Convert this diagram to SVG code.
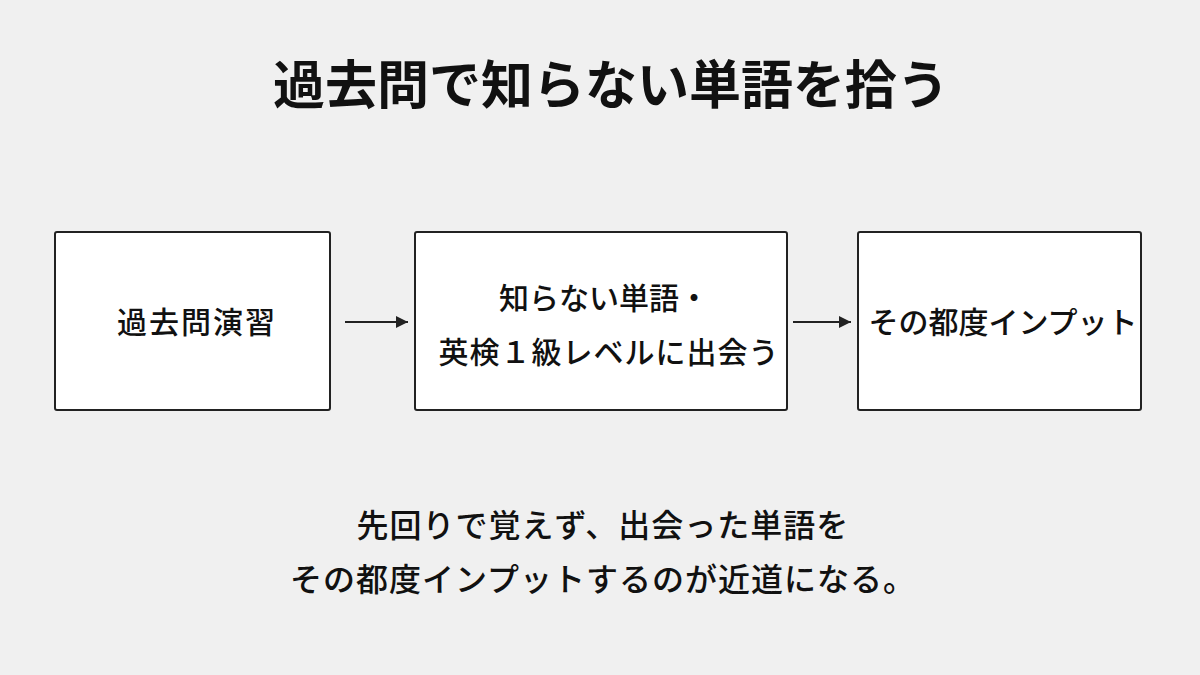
<svg xmlns="http://www.w3.org/2000/svg" width="1200" height="675" viewBox="0 0 1200 675">
<style>
text{font-family:"Noto Sans CJK JP","Noto Sans",sans-serif;fill:#111;text-anchor:middle}
.box{fill:#fff;stroke:#222;stroke-width:2}
.t{font-size:30px;font-weight:500}
.c{stroke:#222;stroke-width:2;fill:none}
</style>
<defs><marker id="a" viewBox="0 0 10 10" refX="10" refY="5" markerWidth="12" markerHeight="12" markerUnits="userSpaceOnUse" orient="auto"><path d="M0,0L10,5L0,10z" fill="#222"/></marker></defs>
<rect width="1200" height="675" fill="#f0f0f0"/>
<text x="611" y="104" font-size="52" font-weight="700">過去問で知らない単語を拾う</text>
<g id="n1"><rect class="box" x="55" y="232" width="275" height="178" rx="2"/><text class="t" x="197" y="333" font-size="33" letter-spacing="2">過去問演習</text></g>
<g id="n2"><rect class="box" x="415" y="232" width="372" height="178" rx="2"/><text class="t" x="604" y="309">知らない単語・</text><text class="t" x="609" y="363" letter-spacing="1">英検１級レベルに出会う</text></g>
<g id="n3"><rect class="box" x="858" y="232" width="283" height="178" rx="2"/><text class="t" x="1003" y="333">その都度インプット</text></g>
<g id="connectors"><path class="c" d="M345 322H408" marker-end="url(#a)"/><path class="c" d="M793 322H851" marker-end="url(#a)"/></g>
<text x="603" y="537" font-size="32" font-weight="500" letter-spacing="1">先回りで覚えず、出会った単語を</text>
<text x="603" y="591" font-size="32" font-weight="500" letter-spacing="1">その都度インプットするのが近道になる。</text>
</svg>
